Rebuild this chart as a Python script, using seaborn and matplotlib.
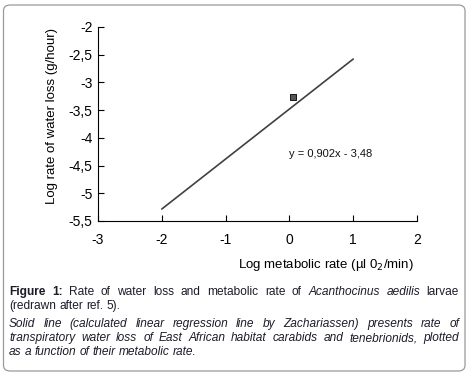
import math
import matplotlib
matplotlib.use("Agg")
import matplotlib.pyplot as plt
import seaborn as sns
import pandas as pd
from matplotlib.patches import FancyBboxPatch
from matplotlib.ticker import FuncFormatter
from matplotlib.font_manager import FontProperties
from matplotlib.backends.backend_agg import get_hinting_flag

# --- dati ---
linea_x = [-2, 1]
linea_y = [-5.284, -2.578]
punto_x = [0.05]
punto_y = [-3.27]
x_ticks = [-3, -2, -1, 0, 1, 2]
y_ticks = [-5.5, -5, -4.5, -4, -3.5, -3, -2.5, -2]
equazione = "y = 0,902x - 3,48"

sns.set_theme(style="white")
plt.rcParams['font.family'] = ['Liberation Sans', 'DejaVu Sans']
plt.rcParams['axes.unicode_minus'] = False

W, H = 469, 374
fig = plt.figure(figsize=(W / 100, H / 100), dpi=100)
ax = fig.add_axes([98 / W, 1 - 221 / H, (417 - 98) / W, (221 - 27) / H])

df_linea = pd.DataFrame({'x': linea_x, 'y': linea_y})
df_punto = pd.DataFrame({'x': punto_x, 'y': punto_y})
sns.lineplot(data=df_linea, x='x', y='y', color='#404040', linewidth=1.2, ax=ax)
sns.scatterplot(data=df_punto, x='x', y='y', marker='s', s=14, color='#555555',
                edgecolor='black', linewidth=0.6, zorder=5, ax=ax)

ax.text(0.0, -4.30, equazione, fontsize=8, color='#111111', va='center', ha='left')

ax.set_xlim(-3, 2)
ax.set_ylim(-5.5, -2)
ax.set_xticks(x_ticks)
ax.set_yticks(y_ticks)
virgola = FuncFormatter(lambda v, p: ('%g' % v).replace('.', ','))
ax.xaxis.set_major_formatter(virgola)
ax.yaxis.set_major_formatter(virgola)
ax.tick_params(axis='both', direction='in', length=4, width=0.8, colors='black',
               labelsize=10, bottom=True, left=True)
ax.tick_params(axis='x', pad=9)
ax.tick_params(axis='y', pad=4)
ax.set_xlabel('')
ax.set_ylabel('')
for s in ['top', 'right']:
    ax.spines[s].set_visible(False)
for s in ['left', 'bottom']:
    ax.spines[s].set_color('black')
    ax.spines[s].set_linewidth(0.8)
ax.patch.set_alpha(0)

fig.text(414 / W, 1 - 265 / H, 'Log metabolic rate (µl 0$_2$/min)', fontsize=9.5,
         ha='right', va='center', color='black')
fig.text(52 / W, 1 - 116.5 / H, 'Log rate of water loss (g/hour)', fontsize=9.5,
         rotation=90, ha='center', va='center', color='black')

# cornice arrotondata
box = FancyBboxPatch((3.5 / W, 1 - 371 / H), (465 - 3.5) / W, (371 - 5) / H,
                     boxstyle='round,pad=0,rounding_size=0.015', transform=fig.transFigure,
                     facecolor='none', edgecolor='#9a9a9a', linewidth=0.9)
fig.patches.append(box)

# --- didascalia giustificata, parola per parola ---
renderer = fig.canvas.get_renderer()
COL_TESTO = '#1c1c2a'
FS = 8.6


def larghezza(testo, **kw):
    t = fig.text(0, 0, testo, fontsize=FS, **kw)
    w = t.get_window_extent(renderer).width
    t.remove()
    return w


def discesa(testo, **kw):
    # discesa dei glifi come la calcola Agg (serve a compensare l'arrotondamento)
    prop = FontProperties(family=plt.rcParams['font.family'], size=FS,
                          weight=kw.get('fontweight', 'normal'),
                          style=kw.get('fontstyle', 'normal'))
    try:
        font = renderer._prepare_font(prop)
        font.set_text(testo, 0, flags=get_hinting_flag())
        return font.get_descent() / 64.0
    except Exception:
        return 0.0


spazio = larghezza('a a') - larghezza('aa')


def riga(parole, y_px, giustifica=True, x0=9, x1=459):
    # parole: lista di (testo, stile); y_px = linea di base
    larg = [larghezza(p, **st) for p, st in parole]
    if giustifica and len(parole) > 1:
        gap = (x1 - x0 - sum(larg)) / (len(parole) - 1)
    else:
        gap = spazio
    x = x0
    for (p, st), w in zip(parole, larg):
        d = discesa(p, **st)
        # la bitmap scende di ceil(d) righe sotto la linea di base
        y = y_px + (math.ceil(d - 1e-6) - d)
        fig.text(x / W, 1 - y / H, p, fontsize=FS, color=COL_TESTO,
                 ha='left', va='baseline', **st)
        x += w + gap


N = {}
B = {'fontweight': 'bold'}
I = {'fontstyle': 'italic'}


def parole(testo, st):
    return [(p, st) for p in testo.split()]


riga(parole('Figure 1:', B) + parole('Rate of water loss and metabolic rate of', N)
     + parole('Acanthocinus aedilis', I) + [('larvae', N)], 295.1)
riga(parole('(redrawn after ref. 5).', N), 309.1, giustifica=False)
riga(parole('Solid line (calculated linear regression line by Zachariassen) presents rate of', I), 327.1)
riga(parole('transpiratory water loss of East African habitat carabids and tenebrionids, plotted', I), 341.1)
riga(parole('as a function of their metabolic rate.', I), 355.1, giustifica=False)

plt.savefig('out.png', dpi=100)
plt.close()
